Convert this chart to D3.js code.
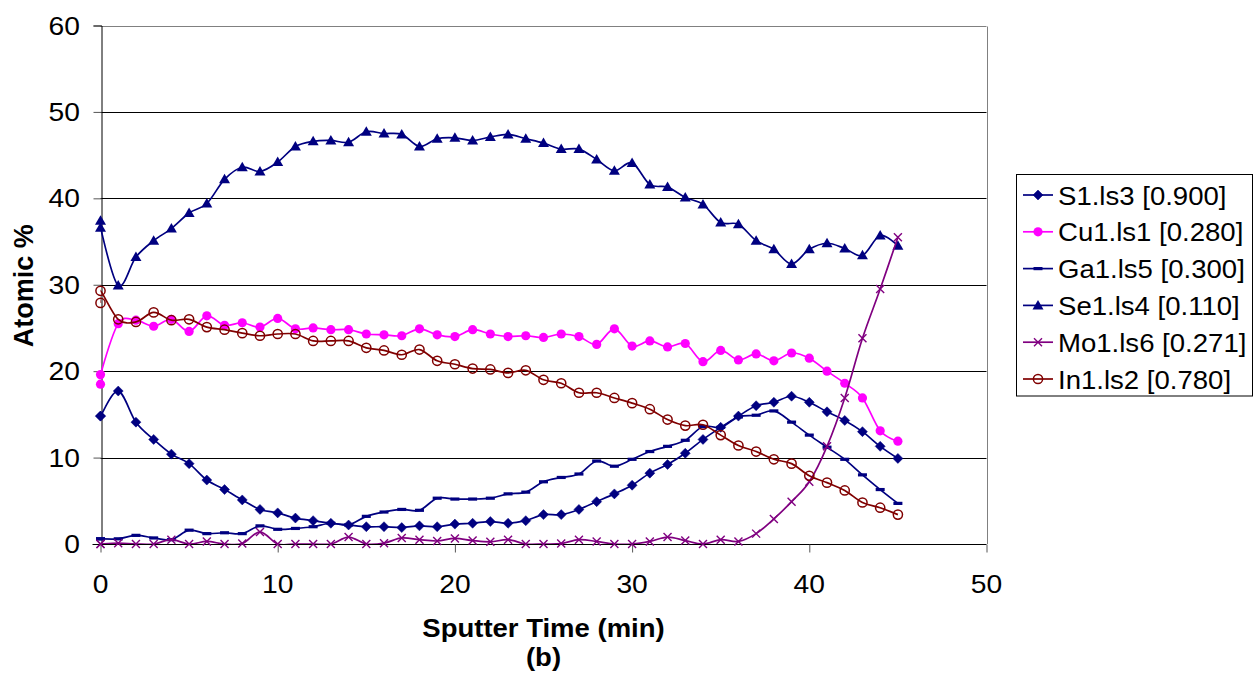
<!DOCTYPE html>
<html>
<head>
<meta charset="utf-8">
<script src="https://cdn.jsdelivr.net/npm/d3@7"></script>
<style>
  html, body { margin: 0; padding: 0; background: #fff; }
  svg { display: block; }
  text { font-family: "Liberation Sans", Arial, sans-serif; fill: #000; }
</style>
</head>
<body>
<svg id="chart" width="1254" height="677"></svg>
<script>
// Sputter time (min); the first reading at t = 0 was taken twice
const times = [0, 0, 1, 2, 3, 4, 5, 6, 7, 8, 9, 10, 11, 12, 13, 14, 15, 16, 17, 18, 19, 20,
  21, 22, 23, 24, 25, 26, 27, 28, 29, 30, 31, 32, 33, 34, 35, 36, 37, 38, 39, 40,
  41, 42, 43, 44, 45];

// Atomic % per element
const sValues  = [14.8, 14.8, 17.7, 14.1, 12.1, 10.4, 9.3, 7.4, 6.3, 5.1, 4.0, 3.6, 3.0, 2.7, 2.4, 2.2,
  2.0, 2.0, 1.9, 2.1, 2.0, 2.3, 2.4, 2.6, 2.4, 2.7, 3.4, 3.4, 4.0, 4.9, 5.8, 6.8, 8.2, 9.2, 10.5,
  12.1, 13.5, 14.8, 16.0, 16.4, 17.1, 16.4, 15.3, 14.3, 13.0, 11.3, 9.9];
const cuValues = [18.5, 19.6, 25.5, 25.9, 25.2, 26.0, 24.6, 26.4, 25.3, 25.6, 25.1, 26.1, 24.9, 25.0,
  24.8, 24.8, 24.3, 24.2, 24.1, 24.9, 24.2, 24.0, 24.8, 24.3, 24.0, 24.1, 23.9, 24.3, 24.0, 23.1,
  24.9, 22.9, 23.5, 22.8, 23.2, 21.1, 22.4, 21.3, 22.0, 21.2, 22.1, 21.5, 20.0, 18.6, 16.9, 13.1, 11.9];
const gaValues = [0.6, 0.6, 0.6, 1.0, 0.7, 0.5, 1.6, 1.2, 1.3, 1.2, 2.1, 1.7, 1.8, 2.0, 2.4, 2.2, 3.2,
  3.7, 4.0, 3.9, 5.3, 5.2, 5.2, 5.3, 5.8, 6.0, 7.2, 7.7, 8.1, 9.6, 9.0, 9.8, 10.7, 11.3, 12.0, 13.6,
  13.5, 14.7, 14.9, 15.4, 14.1, 12.6, 11.2, 9.8, 8.0, 6.3, 4.7];
const seValues = [37.4, 36.6, 29.9, 33.2, 35.1, 36.5, 38.3, 39.4, 42.2, 43.6, 43.1, 44.2, 46.0, 46.6,
  46.7, 46.5, 47.7, 47.5, 47.4, 46.0, 46.9, 47.0, 46.7, 47.1, 47.4, 46.9, 46.4, 45.7, 45.7, 44.5,
  43.2, 44.1, 41.6, 41.3, 40.1, 39.3, 37.2, 37.0, 35.1, 34.1, 32.4, 34.1, 34.8, 34.2, 33.4, 35.7, 34.5];
const moValues = [0.0, 0.0, 0.1, 0.0, 0.0, 0.5, 0.0, 0.3, 0.0, 0.05, 1.4, 0.0, 0.0, 0.0, 0.0, 0.8, 0.0,
  0.1, 0.7, 0.5, 0.35, 0.65, 0.4, 0.25, 0.5, 0.0, 0.0, 0.05, 0.5, 0.3, 0.0, 0.0, 0.3, 0.8, 0.4, 0.0,
  0.5, 0.3, 1.2, 2.9, 4.9, 7.2, 11.3, 16.9, 23.8, 29.5, 35.5];
const inValues = [27.9, 29.3, 26.0, 25.7, 26.8, 25.9, 26.0, 25.1, 24.8, 24.4, 24.1, 24.3, 24.3, 23.5,
  23.5, 23.5, 22.7, 22.4, 21.9, 22.5, 21.2, 20.8, 20.3, 20.2, 19.8, 20.1, 19.0, 18.6, 17.5, 17.5,
  16.9, 16.3, 15.6, 14.4, 13.7, 13.8, 12.6, 11.4, 10.7, 9.8, 9.3, 7.9, 7.1, 6.2, 4.8, 4.2, 3.4];

const seriesNames = ["S1.ls3 [0.900]", "Cu1.ls1 [0.280]", "Ga1.ls5 [0.300]",
                     "Se1.ls4 [0.110]", "Mo1.ls6 [0.271]", "In1.ls2 [0.780]"];
const xTicks = [0, 10, 20, 30, 40, 50];
const yTicks = [0, 10, 20, 30, 40, 50, 60];

const series = [
  { name: seriesNames[0], values: sValues,  color: "#000080", marker: "diamond" },
  { name: seriesNames[1], values: cuValues, color: "#FF00FF", marker: "dot" },
  { name: seriesNames[2], values: gaValues, color: "#000080", marker: "dash" },
  { name: seriesNames[3], values: seValues, color: "#000080", marker: "triangle" },
  { name: seriesNames[4], values: moValues, color: "#800080", marker: "cross" },
  { name: seriesNames[5], values: inValues, color: "#800000", marker: "ring" }
];

const svg = d3.select("#chart");
const plot = { left: 100.5, right: 986.5, top: 25.5, bottom: 544 };

const x = d3.scaleLinear().domain([0, 50]).range([plot.left, plot.right]);
const y = d3.scaleLinear().domain([0, 60]).range([plot.bottom, plot.top]);

const SX = 1.13; // glyphs are drawn slightly wide
function wideText(g, tx, ty, str, opts) {
  const t = g.append("text")
    .attr("transform", `translate(${tx},${ty}) scale(${opts.sx || SX},1)`)
    .attr("font-size", opts.size)
    .attr("text-anchor", opts.anchor || "start")
    .text(str);
  if (opts.bold) t.attr("font-weight", "bold");
  return t;
}

// Horizontal gridlines
svg.append("g").selectAll("line")
  .data(yTicks.filter(d => d > 0))
  .join("line")
  .attr("x1", plot.left).attr("x2", plot.right)
  .attr("y1", d => Math.round(y(d)) + 0.5).attr("y2", d => Math.round(y(d)) + 0.5)
  .attr("stroke", d => d === 60 ? "#808080" : "#000")
  .attr("stroke-width", 1);

// Right edge of the plot area
svg.append("line")
  .attr("x1", Math.round(plot.right) + 0.5).attr("x2", Math.round(plot.right) + 0.5)
  .attr("y1", Math.round(y(60)) + 0.5).attr("y2", plot.bottom)
  .attr("stroke", "#808080");

// Axes
const yAxis = d3.axisLeft(y).tickValues(yTicks).tickSize(8).tickFormat("");
const xAxis = d3.axisBottom(x).tickValues(xTicks).tickSize(8).tickFormat("");
const gy = svg.append("g").attr("transform", `translate(${Math.round(plot.left) + 0.5},0)`).call(yAxis);
const gx = svg.append("g").attr("transform", `translate(0,${Math.round(plot.bottom) + 0.5})`).call(xAxis);
[gx, gy].forEach(g => {
  g.select(".domain").attr("stroke", "#000").attr("stroke-width", 1);
  g.selectAll(".tick line").attr("stroke", "#555");
});
gx.select(".domain").attr("d", `M${plot.left - 8},0H${plot.right}`);

// Tick labels
const labels = svg.append("g");
yTicks.forEach(v => wideText(labels, 80, y(v) + 9, String(v), { size: 25, anchor: "end" }));
xTicks.forEach(v => wideText(labels, x(v), 593, String(v), { size: 25, anchor: "middle" }));

// Axis titles
wideText(labels, (plot.left + plot.right) / 2, 637, "Sputter Time (min)", { size: 25, anchor: "middle", bold: true, sx: 1.1 });
wideText(labels, (plot.left + plot.right) / 2, 666, "(b)", { size: 25, anchor: "middle", bold: true, sx: 1.1 });
svg.append("text")
  .attr("transform", `translate(33,${(plot.top + plot.bottom) / 2 + 1}) rotate(-90) scale(1,1.05)`)
  .attr("font-size", 27).attr("font-weight", "bold").attr("text-anchor", "middle")
  .text("Atomic %");

// Marker shapes
function drawMarker(g, type, color) {
  switch (type) {
    case "diamond":
      g.append("path").attr("d", "M0,-5L5,0L0,5L-5,0Z").attr("fill", color).attr("stroke", color).attr("stroke-width", 0.5);
      break;
    case "dot":
      g.append("circle").attr("r", 4.6).attr("fill", color);
      break;
    case "dash":
      g.append("rect").attr("x", -4.5).attr("y", -1.6).attr("width", 9).attr("height", 3.2).attr("fill", color);
      break;
    case "triangle":
      g.append("path").attr("d", "M0,-5.5L5.5,4L-5.5,4Z").attr("fill", color);
      break;
    case "cross":
      g.append("path").attr("d", "M-4,-4L4,4M-4,4L4,-4").attr("stroke", color).attr("stroke-width", 1.4).attr("fill", "none");
      break;
    case "ring":
      g.append("circle").attr("r", 4.6).attr("fill", "none").attr("stroke", color).attr("stroke-width", 1.5);
      break;
  }
}

// Clip series to the plot area
svg.append("clipPath").attr("id", "plotClip")
  .append("rect").attr("x", plot.left).attr("y", plot.top - 10)
  .attr("width", plot.right - plot.left).attr("height", plot.bottom - plot.top + 10);

const line = d3.line()
  .x((d, i) => x(times[i]))
  .y(d => y(d))
  .curve(d3.curveCatmullRom.alpha(0));

const seriesLayer = svg.append("g");
series.forEach(s => {
  const g = seriesLayer.append("g");
  g.append("path")
    .datum(s.values)
    .attr("d", line)
    .attr("fill", "none")
    .attr("stroke", s.color)
    .attr("stroke-width", 1.7)
    .attr("clip-path", "url(#plotClip)");
  s.values.forEach((v, i) => {
    const m = g.append("g").attr("transform", `translate(${x(times[i])},${y(v)})`);
    drawMarker(m, s.marker, s.color);
  });
});

// Legend
const legend = svg.append("g");
legend.append("rect")
  .attr("x", 1016.5).attr("y", 174.5).attr("width", 236).attr("height", 221.5)
  .attr("fill", "#fff").attr("stroke", "#000").attr("stroke-width", 1);
series.forEach((s, i) => {
  const cy = 195 + i * 36.8;
  const g = legend.append("g");
  g.append("line").attr("x1", 1023).attr("x2", 1053).attr("y1", cy).attr("y2", cy)
    .attr("stroke", s.color).attr("stroke-width", 1.7);
  const m = g.append("g").attr("transform", `translate(1038,${cy})`);
  drawMarker(m, s.marker, s.color);
  wideText(g, 1058, cy + 9.5, s.name, { size: 26, sx: 1.06 });
});
</script>
</body>
</html>
